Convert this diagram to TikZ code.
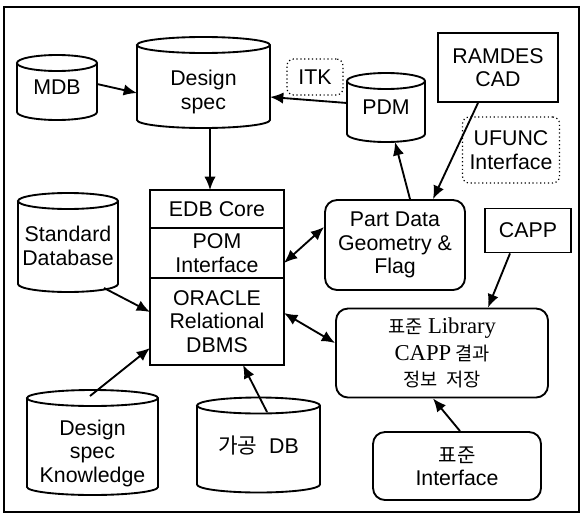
\documentclass[tikz,border=0pt]{standalone}
\usepackage{fontspec}
\setmainfont{Liberation Sans}
\newfontfamily\krfont{Noto Sans CJK KR}
\newfontfamily\seriffont{Liberation Serif}
\usepackage{tikz}
\usetikzlibrary{positioning,arrows.meta,calc}

% outline of a database drum round a named node
\newcommand{\dbshape}[1]{%
  \draw let \p1=(#1.north west), \p2=(#1.south east), \n1={(\x2-\x1)/2} in
    (\x1,\y1-6pt) -- (\x1,\y2+6pt)
    arc[start angle=180, end angle=360, x radius=\n1, y radius=6pt]
    -- (\x2,\y1-6pt)
    arc[start angle=0, end angle=180, x radius=\n1, y radius=6pt]
    arc[start angle=180, end angle=360, x radius=\n1, y radius=6pt];}

\begin{document}
\begin{tikzpicture}[x=0.75pt, y=-0.75pt, line width=1.4pt,
font=\fontsize{16}{17.5}\selectfont, >={Latex[length=10pt,width=8.5pt]},
dbase/.style={rectangle, align=center, inner sep=0pt, outer sep=0pt},
dbtext/.style={align=center, inner sep=0pt, yshift=#1},
box/.style={rectangle, draw, align=center, inner sep=0pt},
rbox/.style={box, rounded corners=9pt},
tag/.style={box, dotted, line width=0.9pt, rounded corners=5pt},
stack/.style={box, line width=1.8pt, outer sep=0pt, minimum width=100.5pt}]
\useasboundingbox (0,0) rectangle (581,514);
\draw (4,7) rectangle (579,512);

% databases
\node [dbase, minimum width=60pt, minimum height=48.75pt] (mdb) at (57,87.5) {MDB};
\node [dbase, minimum width=99.75pt, minimum height=68.25pt] (dspec) at (203.5,82.5) {};
\node [dbtext=-7pt] (dspec-t) at (dspec.center) {Design\\spec};
\node [dbase, minimum width=58.5pt, minimum height=51.75pt] (pdm) at (386,107.5) {PDM};
\node [dbase, minimum width=75pt, minimum height=74.25pt] (stddb) at (68,242.5) {};
\node [dbtext=-2.5pt] (stddb-t) at (stddb.center) {Standard\\Database};
\node [dbase, minimum width=98.25pt, minimum height=78.75pt] (know) at (92.5,442.5) {};
\node [dbtext=-8pt] (know-t) at (know.center) {Design\\spec\\Knowledge};
\node [dbase, minimum width=92.25pt, minimum height=71.25pt] (gagong) at (258.5,445) {{\krfont 가공}\ \ DB};
\foreach \db in {mdb,dspec,pdm,stddb,know,gagong} {\dbshape{\db}}

% EDB stack
\node [stack, minimum height=28.5pt] (edbcore) at (217,209) {EDB Core};
\node [stack, minimum height=37.5pt, below=0pt of edbcore] (pom) {POM\\Interface};
\node [stack, minimum height=65.25pt, below=0pt of pom] (oracle) {ORACLE\\Relational\\DBMS};

% boxes
\node [box, minimum width=90pt, minimum height=51.75pt] (ramdes) at (498,67.5) {RAMDES\\CAD};
\node [box, minimum width=64.5pt, minimum height=33pt] (capp) at (528,230.5) {CAPP};
\node [rbox, minimum width=105pt, minimum height=67.5pt] (pdata) at (395,245) {Part Data\\Geometry \&\\Flag};
\node [rbox, minimum width=159pt, minimum height=66.75pt,
  font=\seriffont\fontsize{17}{20}\selectfont] (stdlib) at (442,353)
  {{\krfont\fontsize{14}{20}\selectfont 표준}\ Library\\CAPP\,{\krfont\fontsize{14}{20}\selectfont 결과}\\{\krfont\fontsize{14}{20}\selectfont 정보\ \ 저장}};
\node [rbox, minimum width=126pt, minimum height=51pt] (stdif) at (457,466)
  {{\krfont\fontsize{15}{17.5}\selectfont 표준}\\Interface};

% tags
\node [tag, minimum width=42pt, minimum height=27pt] (itk) at (315,77) {ITK};
\node [tag, minimum width=72.75pt, minimum height=49.5pt] (ufunc) at (511,150) {UFUNC\\Interface};

\path [->]
($(mdb.center)+(40,-3.5)$) edge ($(dspec.center)+(-66.5,10.5)$)
($(pdm.center)+(-39,-4.5)$) edge ($(dspec.center)+(66.5,14.5)$)
($(dspec.south)+(6.5,0)$) edge ($(edbcore.north)+(-7,0)$)
($(pdata.north)+(15,0)$) edge ($(pdm.south)+(9,0)$)
($(ramdes.south)+(-20,0)$) edge ($(pdata.north)+(38,0)$)
($(capp.south)+(-18,0)$) edge ($(stdlib.north)+(46,0)$)
($(stddb.center)+(36,45.5)$) edge ($(oracle.west)+(0,-9.5)$)
($(know.center)+(-2.5,-46.5)$) edge ($(oracle.west)+(0,26.5)$)
($(gagong.center)+(8.5,-33)$) edge ($(oracle.south)+(26,0)$)
($(stdif.north)+(3,0)$) edge ($(stdlib.south)+(-9,0)$);
\path [<->]
($(pom.east)+(0,10)$) edge ($(pdata.west)+(0,-18)$)
($(oracle.east)+(0,-8.5)$) edge ($(stdlib.west)+(0,-10)$);
\end{tikzpicture}
\end{document}
